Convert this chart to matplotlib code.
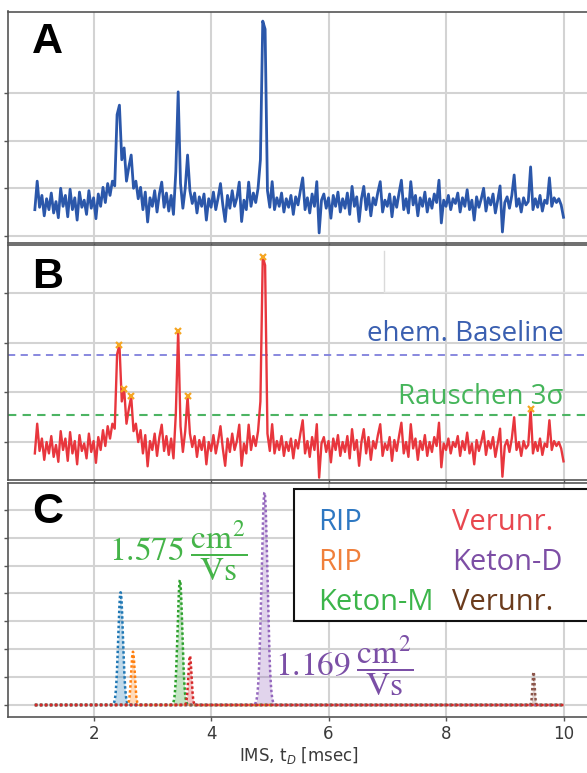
import numpy as np
import matplotlib
matplotlib.use("Agg")
import matplotlib.pyplot as plt
from matplotlib.lines import Line2D
from matplotlib.patches import Rectangle

# ---------------- data ----------------
drift_time = np.linspace(1.0, 10.0, 226)          # ms, 0.04 ms spacing
spectrum = [
    # 1.00 - 1.96
    0.55, 1.15, 0.60, 0.85, 0.42, 0.78, 0.55, 0.90, 0.48, 0.72, 0.38, 1.00, 0.62,
    0.85, 0.40, 0.98, 0.55, 0.80, 0.33, 0.92, 0.60, 0.75, 0.45, 0.95, 0.58,
    # 2.00 - 2.96
    0.80, 0.36, 0.88, 0.62, 1.02, 0.70, 1.10, 0.85, 1.15, 1.05, 2.55, 2.75, 1.60,
    1.85, 1.15, 1.45, 1.70, 1.00, 1.15, 0.78, 1.02, 0.55, 0.92, 0.29, 0.80,
    # 3.00 - 3.96
    0.62, 0.95, 0.50, 0.88, 1.13, 0.60, 0.90, 0.52, 0.85, 0.45, 1.35, 3.03, 1.10,
    0.58, 1.00, 1.70, 0.95, 0.68, 0.90, 0.48, 0.82, 0.62, 0.88, 0.33, 0.78,
    # 4.00 - 4.96
    0.60, 0.92, 0.55, 0.80, 1.10, 0.65, 0.30, 0.85, 0.58, 0.95, 0.62, 0.80, 1.13,
    0.30, 0.75, 0.55, 1.13, 0.62, 0.90, 0.70, 1.00, 1.60, 4.52, 4.35, 0.95,
    # 5.00 - 5.96
    0.60, 1.14, 0.55, 0.80, 0.62, 0.90, 0.50, 0.78, 0.60, 0.85, 0.45, 0.82, 0.65,
    0.95, 1.22, 0.55, 0.80, 0.48, 0.88, 0.62, 1.14, 0.06, 0.75, 0.88, 0.58,
    # 6.00 - 6.96
    0.80, 0.37, 0.85, 0.62, 0.92, 0.50, 0.78, 0.58, 0.90, 0.45, 1.04, 0.62, 0.82,
    0.30, 0.78, 1.04, 0.55, 0.88, 0.42, 0.80, 0.65, 0.92, 1.14, 0.50, 0.75,
    # 7.00 - 7.96
    0.62, 0.88, 0.40, 0.82, 0.60, 0.90, 1.17, 0.55, 0.78, 0.48, 1.14, 0.65, 0.85,
    0.42, 0.80, 0.62, 0.92, 0.50, 0.78, 0.58, 0.88, 0.70, 1.17, 0.27, 0.75,
    # 8.00 - 8.96
    0.62, 0.85, 0.55, 0.78, 0.68, 0.90, 0.50, 0.80, 0.62, 0.97, 0.55, 0.75, 0.33,
    0.82, 0.60, 0.78, 1.00, 0.52, 0.80, 0.65, 0.88, 0.48, 0.75, 1.05, 0.08,
    # 9.00 - 9.96
    0.70, 0.82, 0.58, 0.85, 1.28, 0.62, 0.78, 0.50, 0.80, 0.65, 0.72, 1.45, 0.55,
    0.78, 0.60, 0.85, 0.52, 0.75, 0.68, 1.22, 0.62, 0.80, 0.70, 0.78, 0.65,
    # 10.00
    0.39,
]
detected_peaks = [2.44, 2.52, 2.64, 3.44, 3.60, 4.88, 9.44]
former_baseline = 2.54
noise_3sigma = 1.33

fit_labels = ["RIP", "RIP", "Keton-M", "Verunr.", "Keton-D", "Verunr."]
fit_centers = [2.46, 2.67, 3.47, 3.64, 4.91, 9.49]
fit_heights = [4.04, 1.91, 4.48, 1.76, 7.62, 1.19]
fit_sigmas = [0.040, 0.030, 0.040, 0.027, 0.050, 0.018]
fit_colors = ["#1f77b4", "#ff7f0e", "#2ca02c", "#d62728", "#9467bd", "#8c564b"]
text_colors = ["#2e78c2", "#f0803c", "#3cb54a", "#e8474f", "#7d4ea5", "#6b3b1c"]
mobilities = ["1.575", "1.169"]

x_ticks = [2, 4, 6, 8, 10]

# ---------------- figure ----------------
W, H = 587, 773
fig = plt.figure(figsize=(W / 100, H / 100), dpi=100)


def fx(px):
    return px / W


def fy(py):
    return 1 - py / H


XLIM = (0.543, 10.434)
GRID = "#d3d3d3"


def add_axes(top, bottom):
    return fig.add_axes([fx(8), fy(bottom), fx(589) - fx(8), (bottom - top) / H])


def style(ax, yticks, ylim, labels=False):
    ax.set_xlim(*XLIM)
    ax.set_ylim(*ylim)
    ax.set_xticks(x_ticks)
    ax.set_yticks(yticks)
    ax.grid(True, color=GRID, lw=1.5)
    ax.set_axisbelow(True)
    for s in ax.spines.values():
        s.set_color("#555555")
        s.set_linewidth(1.2)
    ax.tick_params(direction="out", length=3, width=1, color="#555555",
                   labelleft=False, labelbottom=labels)


axA = add_axes(11.5, 243)
axB = add_axes(245, 480)
axC = add_axes(482.5, 717)

sig = np.array(spectrum)

# Panel A
style(axA, [0, 1, 2, 3], (-0.152, 4.722))
axA.plot(drift_time, sig, color="#2b57aa", lw=2.0, solid_joinstyle="round")

# Panel B
style(axB, [0.79, 1.79, 2.79, 3.79], (0.013, 4.76))
axB.axhline(former_baseline, color="#7f7fdc", lw=1.3, ls=(0, (4, 3)))
axB.axhline(noise_3sigma, color="#4cb463", lw=1.5, ls=(0, (4, 3)))
axB.plot(drift_time, sig, color="#e8363d", lw=1.7, solid_joinstyle="round")
pk_idx = [int(np.argmin(np.abs(drift_time - p))) for p in detected_peaks]
axB.plot(drift_time[pk_idx], sig[pk_idx], ls="none", marker="x",
         color="#f5a623", ms=5, mew=1.6)
# faint pasted-box edge
fig.add_artist(Line2D([fx(384), fx(384)], [fy(251), fy(292)], color="#dadada", lw=1))
fig.add_artist(Line2D([fx(384), fx(589)], [fy(292), fy(292)], color="#e2e2e2", lw=1))

fig.text(fx(563.5), fy(341), "ehem. Baseline", color="#3a5fb0", fontsize=20,
         family=["Open Sans", "DejaVu Sans"], ha="right", va="baseline")
fig.text(fx(563.5), fy(404.3), "Rauschen 3σ", color="#45b55a", fontsize=20,
         family=["Open Sans", "DejaVu Sans"], ha="right", va="baseline")

# Panel C
style(axC, list(range(8)), (-0.43, 7.975), labels=True)
axC.tick_params(labelsize=12, labelcolor="#3a3a3a", pad=2.5)
axC.set_xlabel(r"IMS, t$_D$ [msec]", fontsize=12, color="#3a3a3a", labelpad=2,
               math_fontfamily="dejavusans")
xf = np.linspace(1.0, 10.0, 3000)
for k, (c, h, s, col) in enumerate(zip(fit_centers, fit_heights, fit_sigmas, fit_colors)):
    y = h * np.exp(-0.5 * ((xf - c) / s) ** 2)
    axC.fill_between(xf, 0, y, color=col, alpha=0.28, lw=0)
    z = 4 if fit_labels[k] == "Verunr." and col == "#d62728" else 3
    axC.plot(xf, y, color=col, lw=1.8, ls=(0, (1, 1)), zorder=z)

frac = r"\;\dfrac{\mathrm{cm}^2}{\mathrm{Vs}}$"
fig.text(fx(108.6), fy(561.7), r"$" + mobilities[0] + frac,
         color="#45b449", fontsize=24, math_fontfamily="stix", ha="left", va="baseline")
fig.text(fx(275), fy(676.7), r"$" + mobilities[1] + frac,
         color="#7b4fa6", fontsize=24, math_fontfamily="stix", ha="left", va="baseline")

# legend box
fig.add_artist(Rectangle((fx(294), fy(621)), fx(600) - fx(294), (621 - 488.5) / H,
                         facecolor="white", edgecolor="#111111", lw=1.5,
                         transform=fig.transFigure))
col_x = [318, 452]
row_y = [530, 570.5, 610]
for i, (lab, tc) in enumerate(zip(fit_labels, text_colors)):
    c, r = divmod(i, 3)
    fig.text(fx(col_x[c]), fy(row_y[r]), lab, color=tc, fontsize=21,
             family=["Open Sans", "DejaVu Sans"], ha="left", va="baseline")

# panel letters
for lab, base in zip(["A", "B", "C"], [53, 288, 523]):
    fig.text(fx(32), fy(base), lab, fontsize=31, fontweight="bold",
             family=["Liberation Sans", "DejaVu Sans"], color="black",
             ha="left", va="baseline")

fig.savefig("out.png", dpi=100)
